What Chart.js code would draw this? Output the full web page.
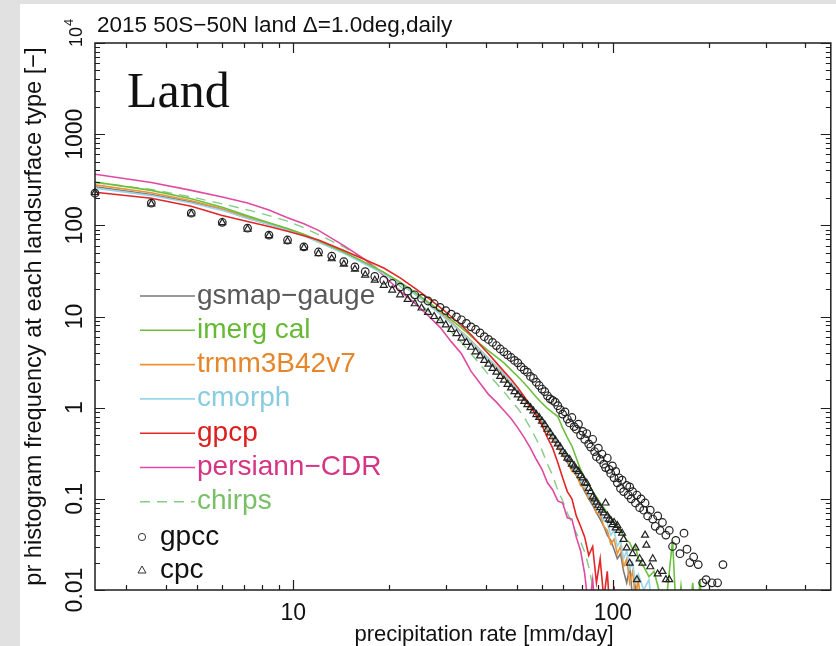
<!DOCTYPE html>
<html>
<head>
<meta charset="utf-8">
<script src="https://cdn.jsdelivr.net/npm/chart.js@4.4.1/dist/chart.umd.min.js"></script>
<style>
  html, body { margin: 0; padding: 0; background: #fff; }
  #wrap { width: 836px; height: 646px; }
</style>
</head>
<body>
<div id="wrap"><canvas id="histChart" width="836" height="646"></canvas></div>
<script>
// bin centres used for the gridded products [mm/day]
const lineRate = [2.4, 3.6, 4.8, 6.0, 7.2, 8.4, 9.6, 10.8, 12.0, 14.4, 16.8, 19.2, 21.6, 24.0, 26.4, 28.8,
  31.2, 33.6, 36.0, 38.4, 40.8, 43.2, 45.6, 48.0, 50.4, 52.8, 55.2, 57.6, 60.0, 62.4, 64.8, 67.2, 69.6,
  72.0, 74.4, 76.8, 79.2, 81.6, 84.0, 86.4, 88.8, 91.2, 93.6, 96.0, 98.4, 100.8, 103.2, 105.6, 108.0,
  110.4, 112.8, 115.2, 117.6, 120.0, 124.8, 129.6, 134.4, 139.2, 144.0, 148.8, 153.6, 158.4, 163.2,
  168.0, 172.8, 177.6, 182.4, 187.2, 192.0, 196.8];

// histogram frequency per product (0.004 = empty bin, drops off the axis)
const gsmapGauge = [265, 218, 180, 148, 120, 103, 90, 78, 66, 50, 38, 30, 23, 17.8, 13.8, 10.8,
  8.5, 6.7, 5.3, 4.2, 3.4, 2.8, 2.3, 1.85, 1.5, 1.25, 1.05, 0.87, 0.72, 0.58, 0.46, 0.38, 0.31,
  0.25, 0.21, 0.18, 0.15, 0.12, 0.1, 0.085, 0.07, 0.06, 0.05, 0.04, 0.035, 0.028, 0.022, 0.025, 0.016,
  0.012, 0.018, 0.008, 0.012, 0.004];
const imergCal = [298, 242, 196, 158, 127, 107, 92, 80, 68, 51, 39, 30.5, 23.8, 18.5, 14.5, 11.5,
  9.2, 7.5, 6.1, 5.0, 4.2, 3.6, 3.1, 2.6, 2.2, 1.85, 1.55, 1.3, 1.12, 0.98, 0.88, 0.8, 0.6,
  0.47, 0.38, 0.28, 0.21, 0.17, 0.145, 0.12, 0.105, 0.09, 0.08, 0.07, 0.062, 0.055, 0.05, 0.044, 0.04,
  0.035, 0.033, 0.028, 0.03, 0.022, 0.018, 0.014, 0.016, 0.01, 0.004, 0.012, 0.035, 0.004, 0.011,
  0.004, 0.004, 0.012, 0.004, 0.013, 0.004];
const trmm3B42 = [278, 228, 186, 152, 124, 105, 91, 79, 67, 51, 39, 30.5, 23.5, 18, 14, 11,
  8.6, 6.8, 5.4, 4.3, 3.45, 2.8, 2.3, 1.85, 1.5, 1.22, 1.0, 0.85, 0.68, 0.57, 0.45, 0.39, 0.3,
  0.27, 0.2, 0.19, 0.14, 0.13, 0.1, 0.095, 0.07, 0.068, 0.05, 0.045, 0.032, 0.036, 0.025, 0.03, 0.018,
  0.022, 0.012, 0.016, 0.008, 0.013, 0.004];
const cmorph = [256, 212, 176, 146, 119, 102, 89, 77, 65, 49.5, 37.5, 29.5, 22.8, 17.6, 13.6, 10.6,
  8.4, 6.7, 5.3, 4.25, 3.45, 2.85, 2.35, 1.9, 1.55, 1.3, 1.08, 0.9, 0.75, 0.6, 0.5, 0.4, 0.34,
  0.27, 0.23, 0.2, 0.16, 0.14, 0.11, 0.1, 0.08, 0.075, 0.058, 0.055, 0.04, 0.045, 0.03, 0.035, 0.022,
  0.027, 0.017, 0.02, 0.012, 0.015, 0.01, 0.013, 0.004];
const gpcp = [231, 198, 162, 128, 110, 97, 86, 77, 69, 53, 42, 34, 26.5, 20.5, 16, 12.6,
  10, 8, 6.3, 4.9, 3.9, 3.1, 2.5, 2.05, 1.65, 1.32, 1.05, 0.82, 0.64, 0.47, 0.36, 0.25, 0.17,
  0.12, 0.1, 0.065, 0.05, 0.038, 0.024, 0.03, 0.012, 0.022, 0.008, 0.016, 0.004, 0.011, 0.004];
const persiannCdr = [364, 295, 242, 205, 176, 147, 121, 104, 88, 60, 42, 28, 19, 14, 10.3, 7.6,
  5.3, 3.9, 2.5, 1.85, 1.4, 1.15, 0.93, 0.76, 0.6, 0.47, 0.36, 0.27, 0.21, 0.15, 0.125, 0.095, 0.09,
  0.062, 0.06, 0.038, 0.027, 0.015, 0.006, 0.013, 0.004];
const chirps = [295, 248, 205, 172, 148, 128, 111, 94, 79, 58, 42, 30, 21.5, 15.5, 11.5, 9.0,
  6.8, 5.2, 3.9, 3.0, 2.3, 1.85, 1.5, 1.2, 0.98, 0.78, 0.6, 0.45, 0.34, 0.24, 0.18, 0.125, 0.095,
  0.07, 0.055, 0.042, 0.034, 0.026, 0.018, 0.011, 0.004];

// gauge products, plotted as symbols
const gpccRate = [2.4, 3.6, 4.8, 6.0, 7.2, 8.4, 9.6, 10.8, 12.0, 13.2, 14.4, 15.6, 16.8, 18.0, 19.2,
  20.4, 21.6, 22.8, 24.0, 25.2, 26.4, 27.6, 28.8, 30.0, 31.2, 32.4, 33.6, 34.8, 36.0, 37.2, 38.4,
  39.6, 40.8, 42.0, 43.2, 44.4, 45.6, 46.8, 48.0, 49.2, 50.4, 51.6, 52.8, 54.0, 55.2, 56.4, 57.6,
  58.8, 60.0, 61.2, 62.4, 63.6, 64.8, 66.0, 67.2, 68.4, 69.6, 70.8, 72.0, 73.2, 74.4, 75.6, 76.8,
  78.0, 79.2, 80.4, 81.6, 82.8, 84.0, 85.2, 86.4, 87.6, 88.8, 90.0, 91.2, 92.4, 93.6, 94.8, 96.0,
  97.2, 98.4, 99.6, 100.8, 102.0, 103.2, 104.4, 105.6, 106.8, 108.0, 110.4, 111.6, 112.8, 114.0,
  115.2, 117.6, 118.8, 121.2, 122.4, 124.8, 126.0, 128.4, 130.8, 133.2, 135.6, 138.0, 140.4, 142.8,
  146.4, 150.0, 153.6, 157.2, 162.0, 166.8, 170.4, 174.0, 178.8, 184.8, 190.8, 195.6, 204.0, 212.4, 220.8];
const gpccFreq = [225, 175, 136, 108, 93, 78, 69, 58, 51, 46, 40, 35, 31, 27.5, 25,
  23, 21, 19, 17.3, 15.8, 14.8, 13.8, 12.6, 11.6, 10.6, 9.9, 9.2, 8.4, 7.7, 7.2, 6.6,
  6.0, 5.6, 5.2, 4.8, 4.4, 4.1, 3.8, 3.55, 3.3, 3.1, 2.8, 2.6, 2.45, 2.2, 2.1, 1.9,
  1.75, 1.6, 1.5, 1.35, 1.25, 1.2, 1.15, 1.05, 0.95, 0.85, 0.9, 0.75, 0.68, 0.78, 0.62, 0.58,
  0.66, 0.5, 0.55, 0.45, 0.52, 0.4, 0.37, 0.45, 0.33, 0.29, 0.36, 0.27, 0.31, 0.24, 0.22, 0.28,
  0.21, 0.19, 0.23, 0.17, 0.2, 0.15, 0.17, 0.13, 0.16, 0.12, 0.14, 0.11, 0.135, 0.1,
  0.12, 0.09, 0.11, 0.08, 0.1, 0.075, 0.09, 0.065, 0.075, 0.06, 0.05, 0.065, 0.045, 0.055,
  0.04, 0.045, 0.03, 0.035, 0.025, 0.042, 0.028, 0.02, 0.023, 0.019, 0.012, 0.013, 0.012, 0.012, 0.019];
const cpcRate = [2.4, 3.6, 4.8, 6.0, 7.2, 8.4, 9.6, 10.8, 12.0, 13.2, 14.4, 15.6, 16.8, 18.0, 19.2,
  20.4, 21.6, 22.8, 24.0, 25.2, 26.4, 27.6, 28.8, 30.0, 31.2, 32.4, 33.6, 34.8, 36.0, 37.2, 38.4,
  39.6, 40.8, 42.0, 43.2, 44.4, 45.6, 46.8, 48.0, 49.2, 50.4, 51.6, 52.8, 54.0, 55.2, 56.4, 57.6,
  58.8, 60.0, 61.2, 62.4, 63.6, 64.8, 66.0, 67.2, 68.4, 69.6, 70.8, 72.0, 73.2, 74.4, 75.6, 76.8,
  78.0, 79.2, 80.4, 81.6, 82.8, 84.0, 85.2, 86.4, 87.6, 88.8, 90.0, 91.2, 92.4, 93.6, 94.8, 96.0,
  97.2, 98.4, 99.6, 100.8, 102.0, 103.2, 104.4, 106.8, 108.0, 110.4, 112.8, 115.2, 117.6, 118.8,
  121.2, 123.6, 126.0, 127.2, 130.8, 133.2, 138.0, 142.8, 146.4, 150.0];
const cpcFreq = [228, 172, 134, 107, 91, 77, 67, 57, 49, 43, 37.5, 33, 28.5, 25, 22,
  19.5, 17.3, 15.4, 13.8, 12.4, 11.1, 10, 9.0, 8.1, 7.2, 6.5, 5.8, 5.2, 4.6, 4.1, 3.7,
  3.3, 3.0, 2.7, 2.45, 2.2, 2.0, 1.8, 1.65, 1.5, 1.38, 1.27, 1.17, 1.08, 1.0, 0.92, 0.84,
  0.78, 0.71, 0.65, 0.58, 0.53, 0.48, 0.44, 0.4, 0.37, 0.33, 0.31, 0.28, 0.27, 0.24, 0.23, 0.21,
  0.2, 0.18, 0.17, 0.15, 0.148, 0.13, 0.12, 0.105, 0.1, 0.092, 0.085, 0.08, 0.075, 0.07, 0.09, 0.065,
  0.06, 0.058, 0.052, 0.055, 0.048, 0.051, 0.045, 0.042, 0.036, 0.029, 0.0197, 0.025, 0.029, 0.013,
  0.022, 0.0197, 0.04, 0.031, 0.018, 0.022, 0.015, 0.016, 0.013, 0.013];

const xTickValues = [10, 100];
const yTickValues = [0.01, 0.1, 1, 10, 100, 1000, 10000];

const SANS = '"Liberation Sans", Arial, sans-serif';

function pts(xs, ys) {
  return ys.map((y, i) => ({ x: xs[i], y: y }));
}

function lineSet(label, values, color, textColor, order, extra) {
  return Object.assign({
    label: label,
    data: pts(lineRate, values),
    borderColor: color,
    textColor: textColor,
    borderWidth: 1.6,
    pointRadius: 0,
    fill: false,
    tension: 0,
    order: order
  }, extra || {});
}

const datasets = [
  lineSet('gsmap\u2212gauge', gsmapGauge, '#7a7a7a', '#595959', 5),
  lineSet('imerg cal', imergCal, '#6cc040', '#66ba33', 2),
  lineSet('trmm3B42v7', trmm3B42, '#ee9233', '#e6862a', 4),
  lineSet('cmorph', cmorph, '#9ad6ea', '#8accdf', 3),
  lineSet('gpcp', gpcp, '#e32626', '#dc2020', 1),
  lineSet('persiann\u2212CDR', persiannCdr, '#e04aa0', '#d63585', 6),
  lineSet('chirps', chirps, '#85cc85', '#77c067', 7, { borderDash: [10, 7], borderWidth: 1.4 }),
  {
    label: 'gpcc', data: pts(gpccRate, gpccFreq), showLine: false,
    pointStyle: 'circle', pointRadius: 3.8, borderWidth: 1.2, borderColor: '#222',
    backgroundColor: 'rgba(0,0,0,0)', textColor: '#111', order: 0, clip: false
  },
  {
    label: 'cpc', data: pts(cpcRate, cpcFreq), showLine: false,
    pointStyle: 'triangle', pointRadius: 4, borderWidth: 1.2, borderColor: '#222',
    backgroundColor: 'rgba(0,0,0,0)', textColor: '#111', order: 0, clip: false
  }
];

// 1..9 x 10^n positions between min and max
function logSteps(min, max) {
  const out = [];
  for (let e = Math.floor(Math.log10(min)); e <= Math.ceil(Math.log10(max)); e++) {
    for (let m = 1; m < 10; m++) {
      const v = m * Math.pow(10, e);
      if (v >= min * 0.9999 && v <= max * 1.0001) out.push({ v: v, major: m === 1 });
    }
  }
  return out;
}

const axisFrame = {
  id: 'axisFrame',
  beforeDraw(chart) {
    const ctx = chart.ctx;
    ctx.save();
    ctx.fillStyle = '#e1e1e1';
    ctx.fillRect(0, 0, chart.width, chart.height);
    ctx.fillStyle = '#ffffff';
    ctx.fillRect(20, 4, chart.width - 20, chart.height - 4);
    ctx.restore();
  },
  afterDraw(chart) {
    const ctx = chart.ctx;
    const a = chart.chartArea;
    const xs = chart.scales.x, ys = chart.scales.y;
    ctx.save();

    // box
    ctx.strokeStyle = '#1e1e1e';
    ctx.lineWidth = 1.5;
    ctx.strokeRect(a.left, a.top, a.right - a.left, a.bottom - a.top);

    // inward ticks on all sides
    ctx.lineWidth = 1.2;
    ctx.beginPath();
    logSteps(xs.min, xs.max).forEach(t => {
      const px = Math.round(xs.getPixelForValue(t.v)) + 0.5;
      const len = t.major ? 10 : 5;
      ctx.moveTo(px, a.bottom); ctx.lineTo(px, a.bottom - len);
      ctx.moveTo(px, a.top); ctx.lineTo(px, a.top + len);
    });
    logSteps(ys.min, ys.max).forEach(t => {
      const py = Math.round(ys.getPixelForValue(t.v)) + 0.5;
      const len = t.major ? 10 : 5;
      ctx.moveTo(a.left, py); ctx.lineTo(a.left + len, py);
      ctx.moveTo(a.right, py); ctx.lineTo(a.right - len, py);
    });
    ctx.stroke();

    // x tick labels
    ctx.fillStyle = '#111';
    ctx.font = '23px ' + SANS;
    ctx.textAlign = 'center';
    ctx.textBaseline = 'alphabetic';
    xTickValues.forEach(v => {
      ctx.fillText(String(v), xs.getPixelForValue(v), 620);
    });

    // y tick labels, rotated
    yTickValues.forEach(v => {
      const py = ys.getPixelForValue(v);
      ctx.save();
      if (v === 10000) {
        ctx.translate(82, py - 6);
        ctx.rotate(-Math.PI / 2);
        ctx.font = '18px ' + SANS;
        ctx.textAlign = 'center';
        ctx.fillText('10', 0, 0);
        const w = ctx.measureText('10').width;
        ctx.font = '13px ' + SANS;
        ctx.textAlign = 'left';
        ctx.fillText('4', w / 2 + 1, -9);
      } else {
        ctx.translate(82, py);
        ctx.rotate(-Math.PI / 2);
        ctx.fillText(String(v), 0, 0);
      }
      ctx.restore();
    });

    // axis titles
    ctx.font = '22px ' + SANS;
    ctx.textAlign = 'center';
    ctx.fillText('precipitation rate [mm/day]', 484, 641);
    ctx.save();
    ctx.translate(41, (a.top + a.bottom) / 2);
    ctx.rotate(-Math.PI / 2);
    ctx.font = '23.6px ' + SANS;
    ctx.fillText('pr histogram frequency at each landsurface type [\u2212]', 0, 0);
    ctx.restore();

    // header
    ctx.textAlign = 'left';
    ctx.font = '22.5px ' + SANS;
    ctx.fillText('2015 50S\u221250N land \u0394=1.0deg,daily', 97, 32);
    ctx.font = '50px "Liberation Serif", "Times New Roman", serif';
    ctx.fillText('Land', 127, 107);

    // legend inside the plot
    let rowY = 296;
    ctx.font = '28px ' + SANS;
    chart.data.datasets.forEach(ds => {
      if (ds.showLine === false) return;
      ctx.save();
      ctx.strokeStyle = ds.borderColor;
      ctx.lineWidth = ds.borderWidth;
      ctx.setLineDash(ds.borderDash || []);
      ctx.beginPath();
      ctx.moveTo(140, rowY);
      ctx.lineTo(195, rowY);
      ctx.stroke();
      ctx.restore();
      ctx.fillStyle = ds.textColor;
      ctx.fillText(ds.label, 197, rowY + 7.5);
      rowY += 34.3;
    });
    rowY = 537;
    chart.data.datasets.forEach(ds => {
      if (ds.showLine !== false) return;
      ctx.save();
      ctx.strokeStyle = '#333';
      ctx.lineWidth = 1;
      ctx.beginPath();
      if (ds.pointStyle === 'circle') {
        ctx.arc(142, rowY, 3.6, 0, Math.PI * 2);
      } else {
        ctx.moveTo(142, rowY - 4);
        ctx.lineTo(146, rowY + 3);
        ctx.lineTo(138, rowY + 3);
        ctx.closePath();
      }
      ctx.stroke();
      ctx.restore();
      ctx.fillStyle = '#111';
      ctx.fillText(ds.label, 160, rowY + 7.5);
      rowY += 33;
    });

    ctx.restore();
  }
};

new Chart(document.getElementById('histChart'), {
  type: 'line',
  data: { datasets: datasets },
  options: {
    responsive: false,
    animation: false,
    layout: { padding: { left: 95, top: 43, right: 4, bottom: 56 } },
    plugins: { legend: { display: false }, tooltip: { enabled: false } },
    scales: {
      x: { type: 'logarithmic', min: 2.4, max: 480, display: false },
      y: { type: 'logarithmic', min: 0.01, max: 10000, display: false }
    }
  },
  plugins: [axisFrame]
});
</script>
</body>
</html>
